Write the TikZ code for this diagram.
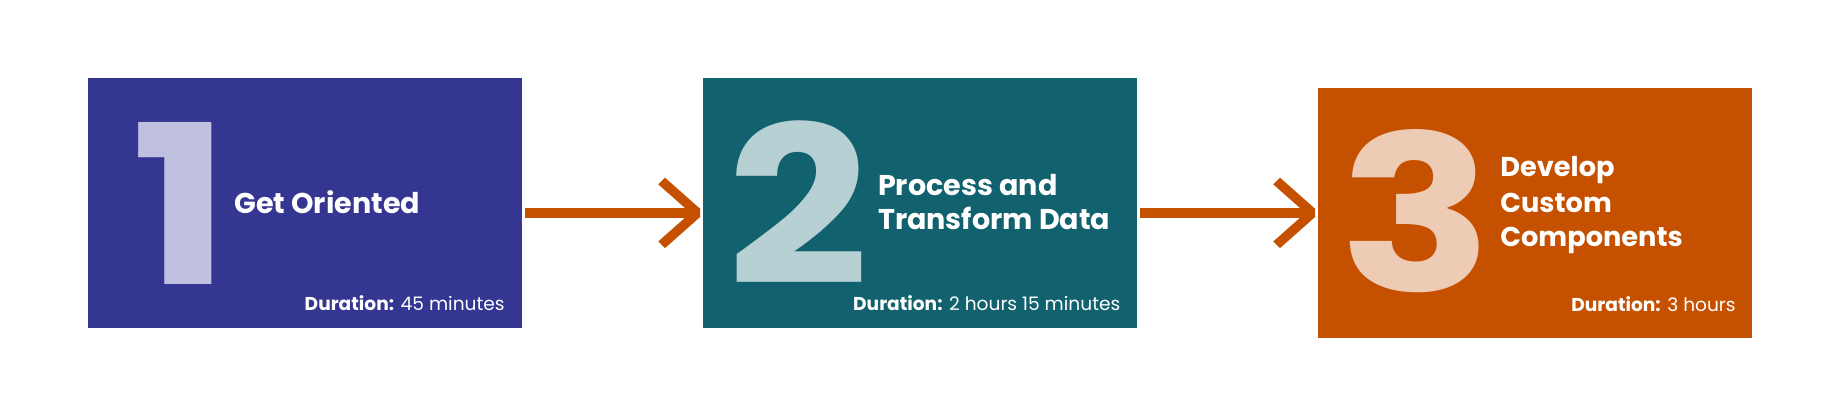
\documentclass[tikz,border=0pt]{standalone}
\usepackage{fontspec}
\setmainfont{Poppins}
\usepackage{graphicx}
\definecolor{cA}{RGB}{52,54,145}
\definecolor{cB}{RGB}{17,98,110}
\definecolor{cC}{RGB}{197,81,0}
\definecolor{nA}{RGB}{192,193,224}
\definecolor{nB}{RGB}{183,208,212}
\definecolor{nC}{RGB}{237,203,181}
\definecolor{arr}{RGB}{197,81,0}
\begin{document}
\begin{tikzpicture}[x=0.5pt,y=-0.5pt,
  stage/.style={draw=none, minimum width=217.2pt, minimum height=125.2pt, inner sep=0pt, anchor=north west},
  digit/.style={inner sep=0pt, anchor=base, font=\bfseries},
  title/.style={text=white, inner sep=0pt, anchor=base west, font=\bfseries\fontsize{14.3}{17}\selectfont},
  titlec/.style={text=white, inner sep=0pt, anchor=base west, font=\bfseries\fontsize{13.6}{16}\selectfont},
  dur/.style={text=white, inner sep=0pt, anchor=base east, font=\fontsize{9.3}{11}\selectfont},
  shaft/.style={draw=arr, line width=5.35pt},
  chev/.style={fill=arr, draw=none}
]
\useasboundingbox (0,0) rectangle (1839,416);
% boxes
\node[stage, fill=cA] (b1) at (87.3,77.3) {};
\node[stage, fill=cB] (b2) at (702.3,77.3) {};
\node[stage, fill=cC] (b3) at (1317.3,87.3) {};
% digits
\node[digit, text=nA] (n1) at (181,284.3) {\scalebox{1.19}[1]{\resizebox{!}{81pt}{1}}};
\node[digit, text=nB] (n2) at (798,284.3) {\scalebox{1.13}[1]{\resizebox{!}{81.8pt}{2}}};
\node[digit, text=nC] (n3) at (1415.8,291.5) {\scalebox{1.17}[1]{\resizebox{!}{81pt}{3}}};
% titles
\node[title] (t1) at (234,214) {Get Oriented};
\node[title] (t2a) at (877.7,196) {Process and};
\node[title] (t2b) at (877.7,229.3) {Transform Data};
\node[titlec] (t3a) at (1500,176.7) {Develop};
\node[titlec] (t3b) at (1500,212.3) {Custom};
\node[titlec] (t3c) at (1500,246.7) {Components};
% durations
\node[dur] (d1) at (505,310.7) {\textbf{Duration:} 45 minutes};
\node[dur] (d2) at (1120.7,310.7) {\textbf{Duration:} 2 hours 15 minutes};
\node[dur] (d3) at (1736,311.7) {\textbf{Duration:} 3 hours};
% connectors
\coordinate (s1) at (b1.east |- b3.center);
\coordinate (e1) at (b2.west |- b3.center);
\coordinate (s2) at (b2.east |- b3.center);
\coordinate (e2) at (b3.west);
\coordinate (tip1) at ([xshift=-1.15pt]e1);
\coordinate (tip2) at ([xshift=-1.15pt]e2);
\draw[shaft] ([xshift=1.3pt]s1) -- ([xshift=-2.5pt]tip1);
\draw[shaft] ([xshift=1.15pt]s2) -- ([xshift=-2.5pt]tip2);
\foreach \t in {tip1,tip2}{
  \begin{scope}[shift={(\t)}]
    \fill[chev] (-35,-35.2) -- (0,-4.2) -- (0,4.2) -- (-35,35.2) -- (-41.7,28.5) -- (-9.5,0) -- (-41.7,-28.5) -- cycle;
  \end{scope}
}
\end{tikzpicture}
\end{document}
